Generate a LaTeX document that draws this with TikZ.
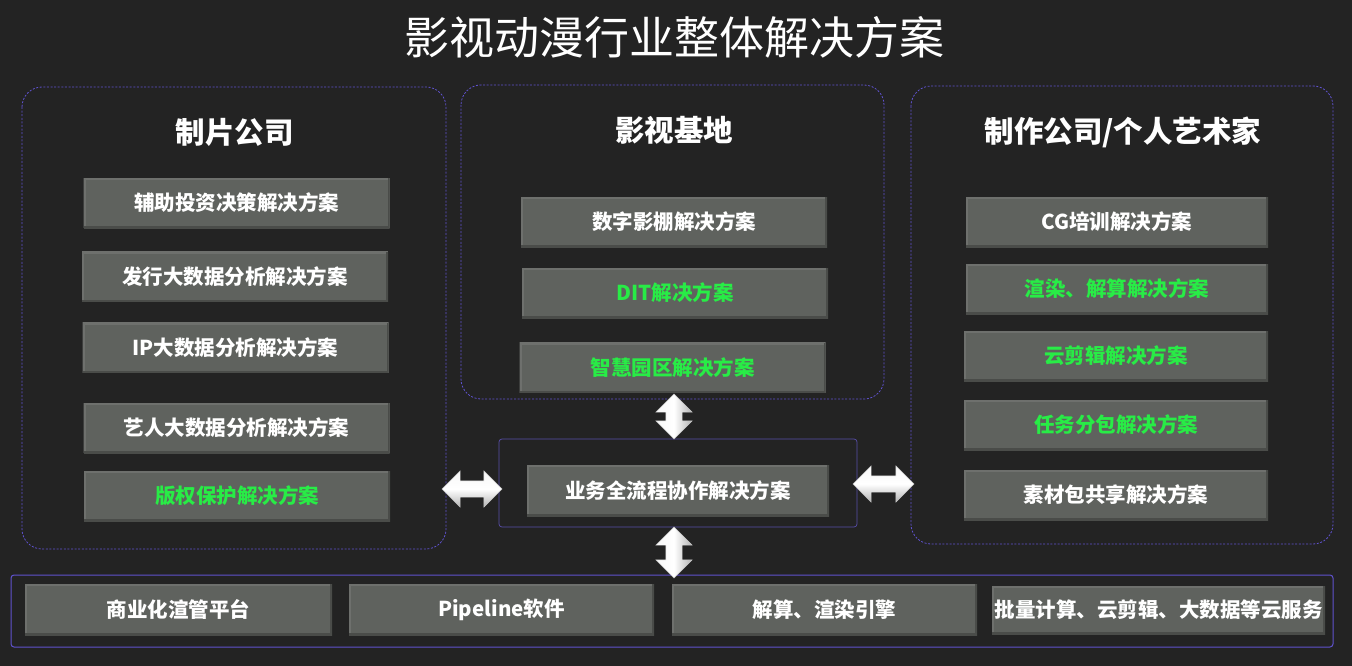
\documentclass[tikz,border=0pt]{standalone}
\usepackage{fontspec}
\setmainfont{Noto Sans CJK SC}
\usetikzlibrary{shapes.arrows}
\definecolor{bg}{HTML}{232323}
\definecolor{panelc}{RGB}{95,82,205}
\definecolor{boxc}{RGB}{88,78,170}
\definecolor{btnc}{HTML}{5F625E}
\definecolor{btnlight}{HTML}{6E706D}
\definecolor{btndark}{HTML}{4A4C49}
\definecolor{greenc}{RGB}{40,236,70}
\begin{document}
\begin{tikzpicture}[x=1pt,y=-1pt,
  panel/.style={draw=panelc, line width=0.8pt, dash pattern=on 2pt off 1.6pt, rounded corners=20pt},
  btn/.style={fill=btnc, text=white, inner sep=0pt,
    font=\bfseries\fontsize{20.5}{24}\selectfont,
    minimum width=306pt, minimum height=50pt,
    path picture={
      \draw[btnlight,line width=4pt] (path picture bounding box.south west) -- (path picture bounding box.north west) -- (path picture bounding box.north east);
      \draw[btndark,line width=4pt] (path picture bounding box.south west) -- (path picture bounding box.south east) -- (path picture bounding box.north east);
    }},
  grn/.style={text=greenc},
  hd/.style={text=white, inner sep=0pt, font=\bfseries\fontsize{29.5}{34}\selectfont},
  darrow/.style={double arrow, double arrow head extend=10pt, minimum width=36pt,
    inner sep=8pt, draw=gray!45, line width=0.4pt},
  harrow/.style={darrow, top color=white!94!gray, bottom color=gray!60, middle color=white},
  varrow/.style={darrow, shape border rotate=90, left color=white!94!gray, right color=gray!60, middle color=white},
]
\useasboundingbox (0,0) rectangle (1352,666);
\fill[bg] (0,0) rectangle (1352,666);

% title
\node[text=white, inner sep=0pt, font=\fontsize{45}{50}\selectfont] (title) at (674,37) {影视动漫行业整体解决方案};

% panels
\draw[panel] (22,87) rectangle (446,549);
\draw[panel] (461,85) rectangle (884,399);
\draw[panel] (911,86) rectangle (1333,544);
\draw[draw=boxc, line width=0.7pt, rounded corners=3pt] (499,439) rectangle (857,527);
\draw[draw=panelc, line width=1pt, rounded corners=3pt] (11,575) rectangle (1333,647);

% headings
\node[hd] (hl) at (234.5,132) {制片公司};
\node[hd] (hm) at (674,130) {影视基地};
\node[hd] (hr) at (1123,132) {制作公司/个人艺术家};

% left buttons
\node[btn] (l1) at (236.5,203) {辅助投资决策解决方案};
\node[btn] (l2) at (235,276.5) {发行大数据分析解决方案};
\node[btn] (l3) at (235.5,347.5) {IP大数据分析解决方案};
\node[btn] (l4) at (236.5,428) {艺人大数据分析解决方案};
\node[btn,grn] (l5) at (237,496) {版权保护解决方案};

% middle buttons
\node[btn] (m1) at (674,222) {数字影棚解决方案};
\node[btn,grn] (m2) at (675,293) {DIT解决方案};
\node[btn,grn] (m3) at (672.5,367.5) {智慧园区解决方案};

% right buttons
\node[btn, minimum width=302pt] (r1) at (1117,222) {CG培训解决方案};
\node[btn,grn, minimum width=302pt] (r2) at (1117,289) {渲染、解算解决方案};
\node[btn,grn, minimum width=304pt] (r3) at (1116,356) {云剪辑解决方案};
\node[btn,grn, minimum width=304pt] (r4) at (1116,425) {任务分包解决方案};
\node[btn, minimum width=304pt] (r5) at (1116,495) {素材包共享解决方案};

% centre
\node[btn, minimum width=302pt, minimum height=51pt] (c) at (678,490.5) {业务全流程协作解决方案};

% bottom
\node[btn, minimum width=307pt, minimum height=51pt] (b1) at (178.5,609.5) {商业化渲管平台};
\node[btn, minimum width=305pt, minimum height=51pt] (b2) at (501.5,609.5) {Pipeline软件};
\node[btn, minimum width=305pt, minimum height=51pt] (b3) at (824.5,609.5) {解算、渲染引擎};
\node[btn, minimum width=333pt, minimum height=48pt] (b4) at (1158.5,610) {批量计算、云剪辑、大数据等云服务};

% arrows
\node[varrow, minimum height=45pt] (at) at (674,416.5) {};
\node[varrow, minimum height=51pt] (ab) at (674,552.5) {};
\node[harrow, minimum height=60pt] (al) at (472,489) {};
\node[harrow, minimum height=61pt] (ar) at (883.5,484) {};
\end{tikzpicture}
\end{document}
